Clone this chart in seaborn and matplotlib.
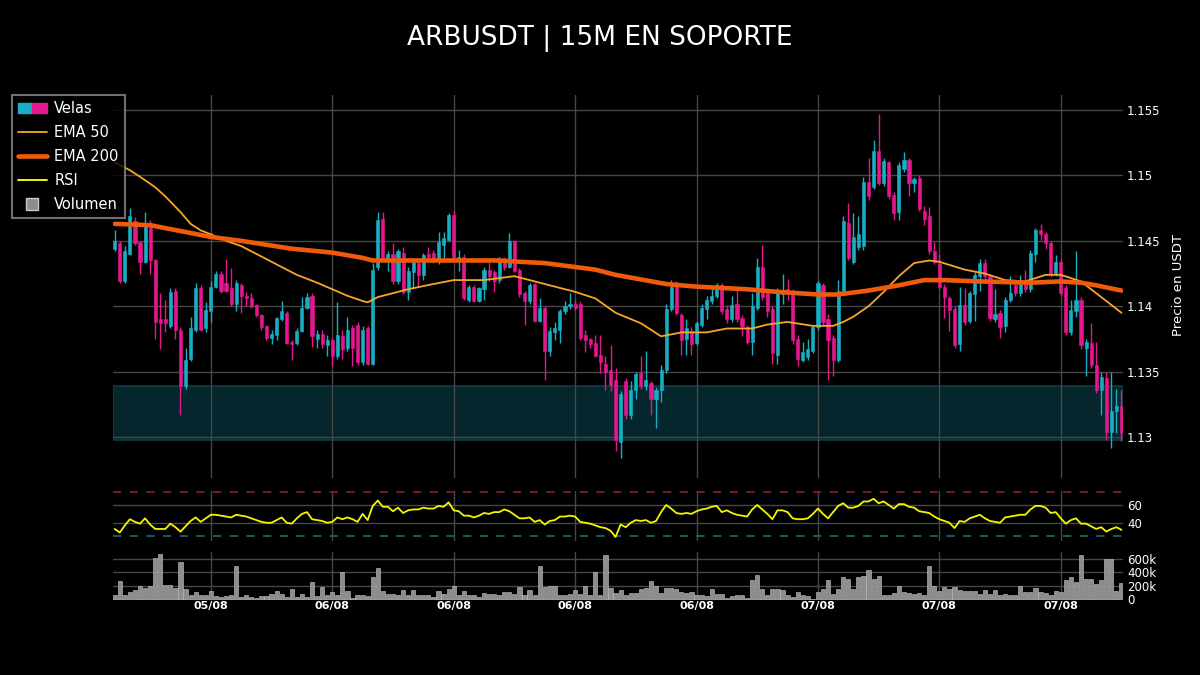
import numpy as np
import pandas as pd
import matplotlib
matplotlib.use("Agg")
import matplotlib.pyplot as plt
import seaborn as sns
from matplotlib.patches import Patch
from matplotlib.lines import Line2D
from matplotlib.legend_handler import HandlerTuple

# ---------------- data ----------------
opens = [1.1444,1.1448,1.1419,1.1440,1.1465,1.1449,1.1434,1.1464,1.1435,1.1390,
         1.1390,1.1385,1.1412,1.1382,1.1339,1.1360,1.1382,1.1414,1.1383,1.1396,
         1.1415,1.1425,1.1418,1.1414,1.1402,1.1416,1.1408,1.1406,1.1401,1.1393,
         1.1385,1.1376,1.1378,1.1390,1.1395,1.1373,1.1372,1.1381,1.1399,1.1408,
         1.1375,1.1379,1.1370,1.1374,1.1362,1.1377,1.1368,1.1383,1.1386,1.1357,
         1.1383,1.1356,1.1430,1.1467,1.1437,1.1440,1.1419,1.1441,1.1411,1.1426,
         1.1433,1.1424,1.1440,1.1441,1.1435,1.1447,1.1451,1.1470,1.1436,1.1438,
         1.1405,1.1415,1.1404,1.1413,1.1428,1.1426,1.1420,1.1436,1.1430,1.1450,
         1.1428,1.1410,1.1404,1.1417,1.1389,1.1399,1.1366,1.1380,1.1382,1.1396,
         1.1400,1.1402,1.1402,1.1378,1.1375,1.1372,1.1363,1.1356,1.1351,1.1344,
         1.1296,1.1343,1.1317,1.1336,1.1349,1.1339,1.1341,1.1329,1.1336,1.1351,
         1.1398,1.1416,1.1393,1.1375,1.1381,1.1372,1.1386,1.1398,1.1404,1.1408,
         1.1416,1.1398,1.1390,1.1402,1.1391,1.1384,1.1373,1.1399,1.1430,1.1410,
         1.1398,1.1363,1.1409,1.1413,1.1411,1.1375,1.1359,1.1361,1.1366,1.1384,
         1.1416,1.1390,1.1376,1.1359,1.1412,1.1464,1.1434,1.1445,1.1446,1.1495,
         1.1491,1.1519,1.1494,1.1510,1.1485,1.1472,1.1505,1.1512,1.1494,1.1498,
         1.1473,1.1469,1.1442,1.1432,1.1415,1.1406,1.1398,1.1371,1.1401,1.1389,
         1.1409,1.1423,1.1433,1.1423,1.1390,1.1395,1.1385,1.1405,1.1416,1.1410,
         1.1418,1.1413,1.1440,1.1458,1.1455,1.1448,1.1425,1.1434,1.1414,1.1380,
         1.1396,1.1405,1.1368,1.1372,1.1355,1.1336,1.1345,1.1304,1.1320,1.1324]
highs = [1.1458,1.1450,1.1446,1.1475,1.1468,1.1450,1.1472,1.1466,1.1436,1.1410,
         1.1405,1.1414,1.1414,1.1384,1.1368,1.1392,1.1418,1.1416,1.1403,1.1419,
         1.1427,1.1427,1.1436,1.1429,1.1420,1.1418,1.1411,1.1410,1.1402,1.1394,
         1.1386,1.1382,1.1392,1.1404,1.1396,1.1374,1.1383,1.1407,1.1410,1.1410,
         1.1382,1.1382,1.1378,1.1376,1.1403,1.1382,1.1392,1.1386,1.1388,1.1385,
         1.1385,1.1433,1.1472,1.1472,1.1442,1.1448,1.1444,1.1445,1.1430,1.1437,
         1.1435,1.1441,1.1445,1.1443,1.1457,1.1457,1.1471,1.1473,1.1443,1.1440,
         1.1416,1.1416,1.1415,1.1430,1.1437,1.1428,1.1438,1.1438,1.1456,1.1451,
         1.1429,1.1412,1.1418,1.1418,1.1406,1.1400,1.1384,1.1388,1.1398,1.1404,
         1.1410,1.1405,1.1404,1.1382,1.1376,1.1378,1.1378,1.1362,1.1370,1.1353,
         1.1335,1.1345,1.1343,1.1350,1.1362,1.1366,1.1343,1.1338,1.1355,1.1402,
         1.1420,1.1419,1.1395,1.1390,1.1384,1.1389,1.1402,1.1408,1.1413,1.1418,
         1.1418,1.1401,1.1408,1.1415,1.1393,1.1386,1.1410,1.1437,1.1447,1.1412,
         1.1400,1.1414,1.1425,1.1421,1.1413,1.1378,1.1373,1.1375,1.1386,1.1419,
         1.1418,1.1394,1.1378,1.1420,1.1469,1.1479,1.1471,1.1469,1.1499,1.1513,
         1.1527,1.1547,1.1513,1.1511,1.1487,1.1510,1.1518,1.1513,1.1499,1.1500,
         1.1477,1.1476,1.1449,1.1440,1.1417,1.1408,1.1400,1.1415,1.1414,1.1412,
         1.1426,1.1436,1.1436,1.1425,1.1413,1.1397,1.1407,1.1423,1.1419,1.1424,
         1.1428,1.1443,1.1460,1.1463,1.1457,1.1450,1.1439,1.1436,1.1416,1.1405,
         1.1442,1.1407,1.1375,1.1387,1.1373,1.1350,1.1350,1.1350,1.1337,1.1336]
lows = [1.1442,1.1418,1.1418,1.1439,1.1447,1.1425,1.1433,1.1425,1.1375,1.1367,
        1.1380,1.1383,1.1375,1.1317,1.1337,1.1358,1.1380,1.1381,1.1380,1.1388,
        1.1414,1.1410,1.1411,1.1400,1.1396,1.1395,1.1400,1.1399,1.1392,1.1382,
        1.1374,1.1371,1.1374,1.1389,1.1371,1.1359,1.1370,1.1380,1.1398,1.1369,
        1.1368,1.1368,1.1362,1.1354,1.1360,1.1360,1.1366,1.1354,1.1355,1.1355,
        1.1355,1.1355,1.1428,1.1436,1.1427,1.1417,1.1417,1.1409,1.1405,1.1414,
        1.1415,1.1420,1.1436,1.1433,1.1432,1.1437,1.1450,1.1437,1.1427,1.1405,
        1.1403,1.1403,1.1403,1.1405,1.1419,1.1411,1.1418,1.1428,1.1429,1.1426,
        1.1407,1.1386,1.1402,1.1388,1.1388,1.1344,1.1362,1.1374,1.1372,1.1394,
        1.1398,1.1397,1.1374,1.1365,1.1368,1.1361,1.1349,1.1336,1.1335,1.1289,
        1.1284,1.1314,1.1314,1.1329,1.1337,1.1336,1.1317,1.1307,1.1327,1.1349,
        1.1396,1.1393,1.1363,1.1363,1.1363,1.1370,1.1384,1.1390,1.1402,1.1406,
        1.1394,1.1387,1.1388,1.1388,1.1377,1.1371,1.1363,1.1397,1.1405,1.1392,
        1.1356,1.1356,1.1402,1.1405,1.1371,1.1354,1.1357,1.1359,1.1364,1.1382,
        1.1386,1.1344,1.1347,1.1357,1.1410,1.1435,1.1432,1.1443,1.1443,1.1481,
        1.1490,1.1493,1.1492,1.1482,1.1466,1.1466,1.1503,1.1484,1.1487,1.1473,
        1.1462,1.1440,1.1432,1.1413,1.1391,1.1381,1.1368,1.1366,1.1386,1.1387,
        1.1389,1.1412,1.1421,1.1389,1.1388,1.1376,1.1380,1.1403,1.1408,1.1408,
        1.1411,1.1411,1.1434,1.1451,1.1444,1.1422,1.1423,1.1408,1.1378,1.1378,
        1.1392,1.1367,1.1347,1.1353,1.1334,1.1317,1.1298,1.1292,1.1303,1.1297]
closes = [1.1450,1.1419,1.1442,1.1469,1.1448,1.1434,1.1463,1.1435,1.1388,1.1387,
          1.1387,1.1411,1.1382,1.1339,1.1359,1.1383,1.1414,1.1382,1.1397,1.1415,
          1.1425,1.1412,1.1412,1.1402,1.1418,1.1408,1.1406,1.1400,1.1393,1.1384,
          1.1376,1.1379,1.1391,1.1396,1.1372,1.1371,1.1381,1.1399,1.1407,1.1377,
          1.1379,1.1371,1.1374,1.1362,1.1378,1.1367,1.1382,1.1368,1.1357,1.1382,
          1.1356,1.1428,1.1466,1.1437,1.1440,1.1419,1.1442,1.1411,1.1427,1.1434,
          1.1424,1.1439,1.1438,1.1435,1.1449,1.1452,1.1470,1.1438,1.1438,1.1406,
          1.1415,1.1404,1.1414,1.1428,1.1423,1.1419,1.1435,1.1430,1.1450,1.1427,
          1.1409,1.1404,1.1416,1.1389,1.1399,1.1366,1.1381,1.1383,1.1396,1.1400,
          1.1402,1.1399,1.1376,1.1374,1.1371,1.1362,1.1357,1.1350,1.1340,1.1298,
          1.1333,1.1317,1.1336,1.1348,1.1339,1.1344,1.1329,1.1336,1.1351,1.1398,
          1.1415,1.1395,1.1374,1.1383,1.1371,1.1387,1.1399,1.1405,1.1408,1.1416,
          1.1396,1.1390,1.1401,1.1390,1.1385,1.1373,1.1400,1.1430,1.1407,1.1396,
          1.1364,1.1411,1.1412,1.1410,1.1374,1.1360,1.1365,1.1367,1.1384,1.1418,
          1.1388,1.1374,1.1359,1.1412,1.1465,1.1437,1.1453,1.1455,1.1495,1.1484,
          1.1519,1.1494,1.1511,1.1484,1.1471,1.1508,1.1512,1.1494,1.1497,1.1474,
          1.1467,1.1442,1.1434,1.1415,1.1407,1.1397,1.1370,1.1401,1.1388,1.1410,
          1.1424,1.1433,1.1423,1.1391,1.1394,1.1384,1.1405,1.1410,1.1410,1.1417,
          1.1413,1.1441,1.1458,1.1455,1.1448,1.1425,1.1434,1.1410,1.1380,1.1397,
          1.1405,1.1370,1.1373,1.1355,1.1336,1.1346,1.1304,1.1320,1.1324,1.1303]
volume_k = [60,273,70,110,145,205,175,195,615,665,
            220,220,170,555,160,70,110,60,70,130,
            50,35,50,60,485,35,60,35,25,50,
            50,75,125,85,35,160,35,85,35,260,
            45,185,70,105,60,400,125,25,70,60,
            45,325,465,125,85,85,70,135,60,135,
            60,70,60,35,125,85,150,195,70,125,
            60,70,35,95,85,85,70,110,110,85,
            185,60,145,60,490,185,195,195,60,60,
            85,135,75,195,60,405,60,655,175,95,
            135,70,100,90,160,175,275,195,95,175,
            175,150,110,100,110,60,60,50,160,75,
            85,25,50,60,60,25,285,365,150,70,
            150,160,135,70,35,110,60,45,10,110,
            150,285,85,150,330,295,160,330,340,430,
            295,340,70,70,95,195,110,95,85,95,
            70,490,195,120,185,150,185,135,120,125,
            125,85,135,85,145,70,85,60,70,200,
            110,110,175,110,95,70,120,110,285,330,
            260,650,305,305,225,285,590,590,125,245]
rsi = [33,29,37,44,41,39,45,38,33,33,
       33,39,35,30,36,42,46,41,45,49,
       49,48,47,46,49,48,47,45,43,41,
       40,40,43,46,40,39,45,50,52,44,
       43,42,40,41,46,44,46,44,41,50,
       43,59,65,58,58,53,57,51,54,55,
       55,57,56,56,59,58,63,54,53,48,
       48,46,48,51,50,52,52,55,53,49,
       45,45,46,41,43,38,42,43,47,47,
       48,47,41,40,39,37,35,34,31,24,
       38,35,40,43,42,43,40,42,52,60,
       56,51,50,51,50,53,55,56,58,59,
       52,54,51,49,48,47,55,60,55,50,
       44,54,54,52,45,44,44,45,50,56,
       50,45,52,59,62,57,57,59,64,64,
       67,62,64,60,56,61,61,58,57,53,
       52,51,47,44,42,40,34,42,41,45,
       47,49,45,42,41,40,46,47,48,49,
       49,55,59,59,57,51,52,45,39,43,
       45,39,39,36,33,35,30,33,35,32]
ema50_idx = [0,3,5,8,10,13,15,17,19,22,25,28,32,36,40,43,46,49,50,52,55,58,63,67,73,79,83,
             88,91,95,99,104,108,112,117,121,126,129,133,138,142,144,146,149,152,155,158,161,
             163,168,172,176,180,184,187,191,194,199]
ema50_val = [1.1510,1.1504,1.1499,1.1491,1.1484,1.1472,1.1463,1.1458,1.1455,1.1450,1.1446,1.1440,
             1.1432,1.1424,1.1418,1.1413,1.1408,1.1404,1.1403,1.1407,1.1410,1.1413,1.1417,1.1420,
             1.1420,1.1423,1.1419,1.1414,1.1411,1.1406,1.1395,1.1387,1.1377,1.1380,1.1380,1.1383,
             1.1383,1.1386,1.1388,1.1385,1.1385,1.1388,1.1392,1.1400,1.1411,1.1423,1.1433,1.1435,
             1.1434,1.1428,1.1425,1.1420,1.1419,1.1424,1.1424,1.1419,1.1410,1.1395]
ema200_idx = [0,7,15,19,25,35,43,49,51,62,68,76,80,85,91,95,99,109,115,125,131,139,143,149,
              155,160,164,171,181,187,191,194,199]
ema200_val = [1.1463,1.1462,1.1456,1.1453,1.1450,1.1444,1.1441,1.1437,1.1435,1.1435,1.1435,1.1435,
              1.1434,1.1433,1.1430,1.1428,1.1424,1.1417,1.1415,1.1413,1.1411,1.1409,1.1409,1.1412,
              1.1416,1.1420,1.1420,1.1419,1.1418,1.1419,1.1418,1.1416,1.1412]
tick_idx = [19, 43, 67, 91, 115, 139, 163, 187]
tick_labels = ["05/08", "06/08", "06/08", "06/08", "06/08", "07/08", "07/08", "07/08"]
price_ticks = [1.13, 1.135, 1.14, 1.145, 1.15, 1.155]
price_tick_labels = ["1.13", "1.135", "1.14", "1.145", "1.15", "1.155"]
rsi_ticks = [40, 60]
vol_ticks = [0, 200000, 400000, 600000]
vol_tick_labels = ["0", "200k", "400k", "600k"]
zone_low, zone_high = 1.1298, 1.1339
rsi_upper, rsi_lower = 75, 25

# ---------------- style ----------------
sns.set_theme(style="dark")
plt.rcParams["font.family"] = ["DejaVu Sans"]
BG = "#000000"
GRID = "#474747"
UP = "#1aaec4"
DOWN = "#e5178f"
EMA50_C = "#f7a62b"
EMA200_C = "#f05a0a"
RSI_C = "#f5f500"

df = pd.DataFrame({"i": np.arange(len(closes)), "open": opens, "high": highs,
                   "low": lows, "close": closes, "vol": np.array(volume_k) * 1000, "rsi": rsi})
up = df["close"] > df["open"]
colors = np.where(up, UP, DOWN)

fig = plt.figure(figsize=(12, 6.75), dpi=100, facecolor=BG)
L, W = 113 / 1200, 1010 / 1200
ax_p = fig.add_axes([L, 1 - 478 / 675, W, 383 / 675])
ax_r = fig.add_axes([L, 1 - 540.5 / 675, W, 49.5 / 675])
ax_v = fig.add_axes([L, 1 - 599.5 / 675, W, 48 / 675])
XLIM = (-0.34, 199.3)

for ax in (ax_p, ax_r, ax_v):
    ax.set_facecolor(BG)
    for s in ax.spines.values():
        s.set_visible(False)
    ax.set_axisbelow(True)
    ax.grid(True, color=GRID, linewidth=1.0)
    ax.tick_params(colors="white", length=0)

# ---- price panel ----
ax_p.axhspan(zone_low, zone_high, facecolor="#04262c", edgecolor="#0c3d44", linewidth=1.2, zorder=0.3)
body_lo = np.minimum(df["open"], df["close"])
body_h = np.maximum(np.abs(df["close"] - df["open"]), 0.00008)
ax_p.vlines(df["i"], df["low"], df["high"], colors=colors, linewidth=1.0, zorder=2)
ax_p.bar(df["i"], body_h, bottom=body_lo, width=0.62, color=colors, edgecolor=colors,
         linewidth=0.4, zorder=3)
sns.lineplot(x=ema50_idx, y=ema50_val, ax=ax_p, color=EMA50_C, linewidth=1.3, zorder=4, legend=False)
sns.lineplot(x=ema200_idx, y=ema200_val, ax=ax_p, color=EMA200_C, linewidth=3.3, zorder=5, legend=False)
ax_p.set_xlim(*XLIM)
ax_p.set_ylim(1.12687, 1.15615)
ax_p.set_xticks(tick_idx)
ax_p.set_xticklabels([])
ax_p.set_yticks(price_ticks)
ax_p.set_yticklabels(price_tick_labels)
ax_p.yaxis.tick_right()
ax_p.tick_params(axis="y", labelsize=8.5, labelcolor="white", pad=3)
ax_p.set_xlabel("")
ax_p.set_ylabel("")

# ---- RSI panel ----
sns.lineplot(data=df, x="i", y="rsi", ax=ax_r, color=RSI_C, linewidth=1.3, legend=False, zorder=4)
ax_r.axhline(rsi_upper, color="#8e1a3e", linewidth=1.2, linestyle=(0, (5, 5)), zorder=3)
ax_r.axhline(rsi_lower, color="#1b6a72", linewidth=1.2, linestyle=(0, (5, 5)), zorder=3)
ax_r.set_xlim(*XLIM)
ax_r.set_ylim(20, 75.8)
ax_r.set_xticks(tick_idx)
ax_r.set_xticklabels([])
ax_r.set_yticks(rsi_ticks)
ax_r.set_yticklabels([str(t) for t in rsi_ticks])
ax_r.yaxis.tick_right()
ax_r.tick_params(axis="y", labelsize=8.5, labelcolor="white", pad=3)
ax_r.set_xlabel("")
ax_r.set_ylabel("")

# ---- volume panel ----
sns.barplot(data=df, x="i", y="vol", ax=ax_v, native_scale=True, color="#8d8d8d",
            saturation=1, width=0.82, edgecolor="#c8c8c8", linewidth=0.4, errorbar=None, zorder=3)
ax_v.axhline(0, color="#bdbdbd", linewidth=1.0, zorder=4)
ax_v.set_xlim(*XLIM)
ax_v.set_ylim(0, 705000)
ax_v.set_xticks(tick_idx)
ax_v.set_xticklabels(tick_labels, fontsize=8, fontweight="bold", color="white")
ax_v.set_yticks(vol_ticks)
ax_v.set_yticklabels(vol_tick_labels)
ax_v.yaxis.tick_right()
ax_v.tick_params(axis="y", labelsize=8.5, labelcolor="white", pad=3)
ax_v.tick_params(axis="x", pad=1)
ax_v.set_xlabel("")
ax_v.set_ylabel("")

# ---- texts ----
fig.text(0.5, 1 - 38 / 675, "ARBUSDT | 15M EN SOPORTE", color="white", fontsize=19,
         ha="center", va="center")
fig.text(1178 / 1200, 1 - 285 / 675, "Precio en USDT", color="white", fontsize=9.5,
         rotation=90, ha="center", va="center")

# ---- legend ----
velas = (Patch(facecolor=UP, edgecolor=UP), Patch(facecolor=DOWN, edgecolor=DOWN))
handles = [velas,
           Line2D([], [], color=EMA50_C, linewidth=1.3),
           Line2D([], [], color=EMA200_C, linewidth=3.3),
           Line2D([], [], color=RSI_C, linewidth=1.4),
           Line2D([], [], linestyle="none", marker="s", markersize=9,
                  markerfacecolor="#8d8d8d", markeredgecolor="#c8c8c8")]
labels = ["Velas", "EMA 50", "EMA 200", "RSI", "Volumen"]
leg = fig.legend(handles, labels, loc="upper left", bbox_to_anchor=(12 / 1200, 1 - 95 / 675),
                 frameon=True, fontsize=10.5, labelcolor="white", facecolor=BG,
                 edgecolor="#8c8c8c", handlelength=2.0, handletextpad=0.5,
                 labelspacing=0.62, borderpad=0.4, borderaxespad=0, fancybox=False,
                 handler_map={tuple: HandlerTuple(ndivide=None, pad=0)})
leg.get_frame().set_linewidth(1.5)

fig.savefig("out.png", dpi=100, facecolor=BG)
